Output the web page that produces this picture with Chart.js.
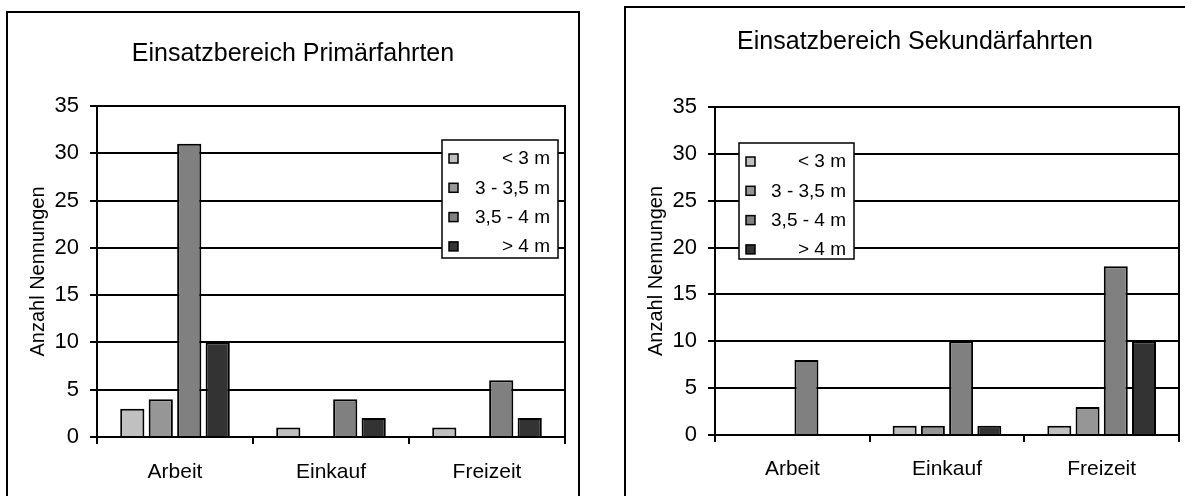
<!DOCTYPE html>
<html>
<head>
<meta charset="utf-8">
<script src="https://cdn.jsdelivr.net/npm/chart.js@4/dist/chart.umd.min.js"></script>
<style>
  html, body { margin: 0; padding: 0; background: #fff; overflow: hidden; width: 1185px; height: 496px; }
  .frame { position: absolute; box-sizing: border-box; border: 2px solid #000; }
  canvas { position: absolute; }
</style>
</head>
<body>
<div class="frame" style="left:6px;top:11px;width:574px;height:520px"></div>
<div class="frame" style="left:624px;top:6px;width:600px;height:520px"></div>
<canvas id="primaer" width="572" height="484" style="left:7px;top:12px;width:572px;height:484px"></canvas>
<canvas id="sekundaer" width="580" height="489" style="left:625px;top:7px;width:580px;height:489px"></canvas>
<script>
const categories = ['Arbeit', 'Einkauf', 'Freizeit'];
const sizeClasses = ['< 3 m', '3 - 3,5 m', '3,5 - 4 m', '> 4 m'];

// Primärfahrten, Anzahl Nennungen je Fahrzeuglänge
const primUnder3 = [3, 1, 1];
const prim3to35 = [4, 0, 0];
const prim35to4 = [31, 4, 6];
const primOver4 = [10, 2, 2];

// Sekundärfahrten
const sekUnder3 = [0, 1, 1];
const sek3to35 = [0, 1, 3];
const sek35to4 = [8, 10, 18];
const sekOver4 = [0, 1, 10];

const yMax = 35;
const yStep = 5;

const barColors = ['#c0c0c0', '#969696', '#808080', '#333333'];
const FONT = 'Liberation Sans, Arial, sans-serif';

// boxed legend sitting inside the plot area
const boxLegend = {
  id: 'boxLegend',
  afterDraw(chart, args, opts) {
    const { ctx, chartArea } = chart;
    const x = chartArea.left + opts.x;
    const y = chartArea.top + opts.y;
    ctx.save();
    ctx.fillStyle = '#fff';
    ctx.fillRect(x, y, opts.width, opts.height);
    ctx.strokeStyle = '#000';
    ctx.lineWidth = 1.5;
    ctx.strokeRect(x, y, opts.width, opts.height);
    ctx.font = '19px ' + FONT;
    ctx.textAlign = 'right';
    ctx.textBaseline = 'middle';
    chart.data.datasets.forEach((ds, i) => {
      const cy = y + 19 + i * 29.3;
      ctx.fillStyle = ds.backgroundColor;
      ctx.fillRect(x + 7, cy - 5, 9, 9);
      ctx.lineWidth = 1.5;
      ctx.strokeRect(x + 7, cy - 5, 9, 9);
      ctx.fillStyle = '#000';
      ctx.fillText(ds.label, x + opts.width - 8, cy);
    });
    ctx.restore();
  }
};

function makeChart(id, title, series, opt) {
  new Chart(document.getElementById(id), {
    type: 'bar',
    data: {
      labels: categories,
      datasets: series.map((values, i) => ({
        label: sizeClasses[i],
        data: values,
        backgroundColor: barColors[i],
        borderColor: '#000',
        borderWidth: 2,
        borderSkipped: 'bottom',
        categoryPercentage: 0.73,
        barPercentage: 0.85
      }))
    },
    options: {
      responsive: false,
      animation: false,
      devicePixelRatio: 1,
      plugins: {
        legend: { display: false },
        tooltip: { enabled: false },
        title: {
          display: true,
          text: title,
          color: '#000',
          font: { family: FONT, size: 25, weight: 'normal' },
          padding: { top: opt.titleTop, bottom: opt.titleBottom }
        },
        boxLegend: opt.legend
      },
      scales: {
        x: {
          afterFit: s => { s.height = opt.xHeight; },
          grid: { display: true, offset: true, drawOnChartArea: false, drawTicks: true, tickLength: 7, color: '#000', lineWidth: 2 },
          border: { display: true, color: '#000', width: 2 },
          ticks: { color: '#000', padding: opt.xPad, font: { family: FONT, size: 21 } }
        },
        y: {
          min: 0,
          max: yMax,
          afterFit: s => { s.width = 90; },
          grid: { color: '#000', lineWidth: 2, tickLength: 7 },
          border: { display: true, color: '#000', width: 2 },
          ticks: { stepSize: yStep, color: '#000', padding: 11, font: { family: FONT, size: 22 } },
          title: {
            display: true,
            text: 'Anzahl Nennungen',
            color: '#000',
            font: { family: FONT, size: 20 },
            padding: { top: 19, bottom: 0 }
          }
        },
        // empty right axis: closes the plot box and keeps the right margin
        yRight: {
          position: 'right',
          min: 0,
          max: yMax,
          afterFit: s => { s.width = opt.rightGap; },
          grid: { display: false },
          ticks: { display: false },
          border: { display: true, color: '#000', width: 2 }
        }
      }
    },
    plugins: [boxLegend]
  });
}

makeChart('primaer', 'Einsatzbereich Primärfahrten',
  [primUnder3, prim3to35, prim35to4, primOver4],
  { rightGap: 14, titleTop: 27, titleBottom: 37, xHeight: 59, xPad: 16,
    legend: { x: 345, y: 34, width: 116, height: 118 } });

makeChart('sekundaer', 'Einsatzbereich Sekundärfahrten',
  [sekUnder3, sek3to35, sek35to4, sekOver4],
  { rightGap: 26, titleTop: 20, titleBottom: 50, xHeight: 61, xPad: 15,
    legend: { x: 24, y: 36, width: 115, height: 116 } });
</script>
</body>
</html>
